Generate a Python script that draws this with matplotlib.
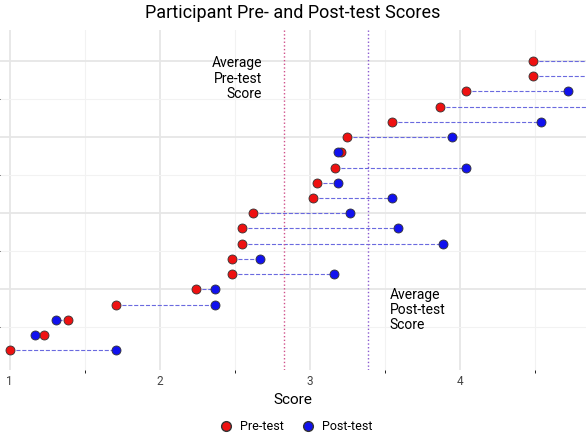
import matplotlib
matplotlib.use("Agg")
import matplotlib.pyplot as plt
from matplotlib.lines import Line2D

rows = list(range(1, 21))
pre = [1.00, 1.23, 1.39, 1.71, 2.24, 2.48, 2.48, 2.55, 2.55, 2.62, 3.02, 3.05, 3.17, 3.21, 3.25, 3.55, 3.87, 4.04, 4.49, 4.49]
post = [1.71, 1.17, 1.31, 2.37, 2.37, 3.16, 2.67, 3.89, 3.59, 3.27, 3.55, 3.19, 4.04, 3.19, 3.95, 4.54, 5.00, 4.72, 5.00, 5.00]
avg_pre, avg_post = 2.83, 3.39

plt.rcParams['font.family'] = ['Roboto', 'DejaVu Sans']
fig = plt.figure(figsize=(5.86, 4.40), dpi=100)
ax = fig.add_axes([0.0, 0.159, 1.0, 0.773])
ax.set_xlim(0.935, 4.84)
ax.set_ylim(-0.3, 22.04)
for s in ax.spines.values():
    s.set_visible(False)
ax.set_xticks([1, 2, 3, 4])
ax.set_xticks([1.5, 2.5, 3.5, 4.5], minor=True)
ax.set_yticks([5, 10, 15, 20])
ax.set_yticks([2.5, 7.5, 12.5, 17.5], minor=True)
ax.grid(True, which='major', color='#e6e6e6', lw=1.3)
ax.grid(True, which='minor', color='#f2f2f2', lw=0.8)
ax.tick_params(length=0, labelleft=False, labelsize=8.5, colors='#444444')
ax.set_axisbelow(True)

for y, a, b in zip(rows, pre, post):
    ax.plot([a, b], [y, y], ls='--', color='#6a6adf', lw=0.8, zorder=2)
ax.axvline(avg_pre, color='#d0508a', ls=':', lw=1.0)
ax.axvline(avg_post, color='#8a5ad0', ls=':', lw=1.0)
ax.scatter(pre, rows, s=42, color='#ee1111', edgecolor='#333333', lw=0.6, zorder=3)
ax.scatter(post, rows, s=42, color='#1111ee', edgecolor='#333333', lw=0.6, zorder=3)

ax.text(2.68, 20.3, "Average\nPre-test\nScore", ha='right', va='top', fontsize=10, linespacing=1.1)
ax.text(3.53, 5.1, "Average\nPost-test\nScore", ha='left', va='top', fontsize=10, linespacing=1.1)
ax.set_xlabel("Score", fontsize=11, labelpad=4)
fig.suptitle("Participant Pre- and Post-test Scores", y=0.99, fontsize=13)

handles = [Line2D([], [], marker='o', ls='', color='#ee1111', mec='#333333', ms=7, label='Pre-test'),
           Line2D([], [], marker='o', ls='', color='#1111ee', mec='#333333', ms=7, label='Post-test')]
fig.legend(handles=handles, loc='lower center', ncol=2, frameon=False, fontsize=9,
           bbox_to_anchor=(0.5, -0.01), handletextpad=0.1, columnspacing=1.0)
fig.savefig("out.png", dpi=100)
